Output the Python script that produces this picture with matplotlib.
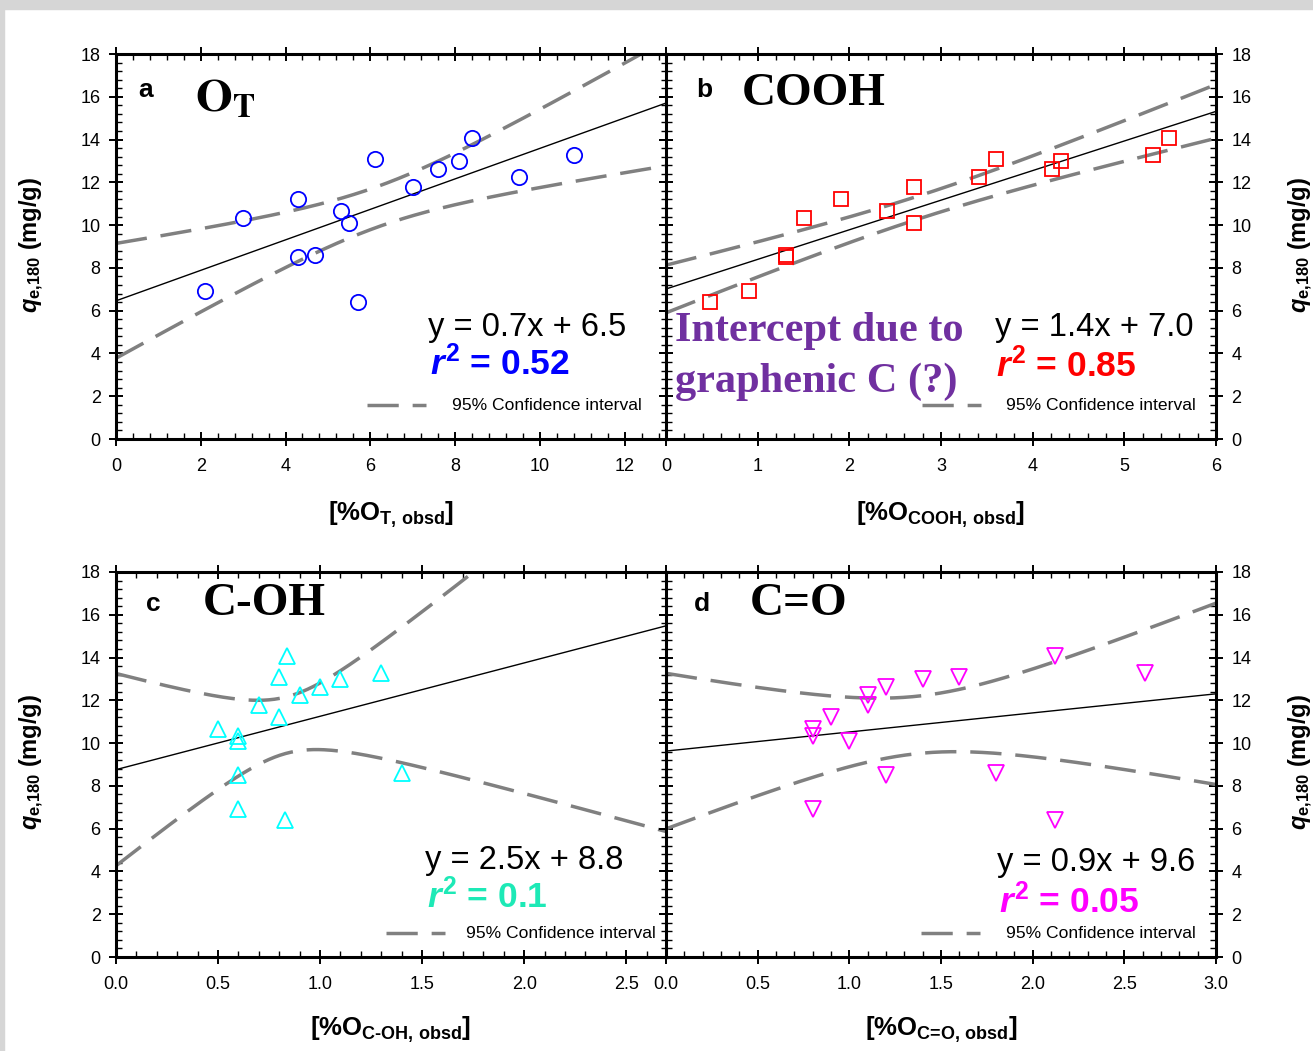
import matplotlib.pyplot as plt
import numpy as np
from matplotlib.ticker import MultipleLocator
from matplotlib.patches import Rectangle

plt.rcParams['font.family'] = ['Liberation Sans', 'DejaVu Sans']
plt.rcParams['mathtext.fontset'] = 'custom'
plt.rcParams['mathtext.rm'] = 'Liberation Sans:bold'
plt.rcParams['mathtext.bf'] = 'Liberation Sans:bold'
plt.rcParams['mathtext.it'] = 'Liberation Sans:bold:italic'

# q_e,180 (mg/g) vs oxygen content of each group
x_ot = [2.1, 3.0, 4.3, 4.3, 4.7, 5.3, 5.5, 5.7, 6.1, 7.0, 7.6, 8.1, 8.4, 9.5, 10.8]
q_ot = [6.93, 10.32, 11.20, 8.49, 8.60, 10.67, 10.08, 6.39, 13.09, 11.78, 12.61, 12.98, 14.09, 12.23, 13.29]

x_cooh = [0.48, 0.91, 1.31, 1.31, 1.50, 1.91, 2.41, 2.71, 2.71, 3.41, 3.60, 4.21, 4.31, 5.31, 5.49]
q_cooh = [6.39, 6.93, 8.60, 8.49, 10.32, 11.20, 10.67, 11.78, 10.08, 12.23, 13.09, 12.61, 12.98, 13.29, 14.09]

x_coh = [0.84, 0.80, 1.30, 1.10, 1.00, 0.90, 0.70, 0.80, 0.50, 0.60, 0.60, 0.60, 1.40, 0.60, 0.83]
q_coh = [14.09, 13.09, 13.29, 12.98, 12.61, 12.23, 11.78, 11.20, 10.67, 10.32, 10.08, 8.49, 8.60, 6.93, 6.39]

x_co = [2.12, 2.61, 1.60, 1.40, 1.20, 1.10, 1.10, 0.90, 0.80, 0.80, 1.00, 1.20, 1.80, 0.80, 2.12]
q_co = [14.09, 13.29, 13.09, 12.98, 12.61, 12.23, 11.78, 11.20, 10.67, 10.32, 10.08, 8.49, 8.60, 6.93, 6.39]

eqs = ['y = 0.7x + 6.5', 'y = 1.4x + 7.0', 'y = 2.5x + 8.8', 'y = 0.9x + 9.6']
r2s = ['0.52', '0.85', '0.1', '0.05']

W, H = 1313, 1051
fig = plt.figure(figsize=(W / 100, H / 100), dpi=100)
fig.patches.append(Rectangle((0, 1 - 9 / H), 1, 9 / H, transform=fig.transFigure, color='#d6d6d6', zorder=0))
fig.patches.append(Rectangle((0, 0), 4 / W, 1, transform=fig.transFigure, color='#d6d6d6', zorder=0))


def px(x, y):
    return x / W, 1 - y / H


def fit_ci(x, y, xs, t=2.160):
    x = np.asarray(x)
    y = np.asarray(y)
    b, a = np.polyfit(x, y, 1)
    n = len(x)
    s = np.sqrt(((y - (a + b * x)) ** 2).sum() / (n - 2))
    sxx = ((x - x.mean()) ** 2).sum()
    yh = a + b * xs
    w = t * s * np.sqrt(1 / n + (xs - x.mean()) ** 2 / sxx)
    return yh, yh - w, yh + w


def make_ax(rect, xmax, xmaj, xmin, left, right):
    ax = fig.add_axes(rect)
    ax.set_xlim(0, xmax)
    ax.set_ylim(0, 18)
    ax.xaxis.set_major_locator(MultipleLocator(xmaj))
    ax.xaxis.set_minor_locator(MultipleLocator(xmin))
    ax.yaxis.set_major_locator(MultipleLocator(2))
    ax.yaxis.set_minor_locator(MultipleLocator(0.4))
    ax.tick_params(which='both', top=True, right=True, labelsize=13,
                   labelleft=left, labelright=right)
    ax.tick_params(axis='x', pad=9)
    ax.tick_params(axis='y', pad=6)
    ax.tick_params(which='major', direction='inout', length=10, width=1.4)
    ax.tick_params(which='minor', direction='in', length=4, width=1)
    for sp in ax.spines.values():
        sp.set_linewidth(2.2)
    return ax


w_a, w_b = 551 / W, 550 / W
hgt = 385 / H
ax_a = make_ax([116 / W, 1 - 439 / H, w_a, hgt], 13, 2, 0.4, True, False)
ax_b = make_ax([666 / W, 1 - 439 / H, w_b, hgt], 6, 1, 0.2, False, True)
ax_c = make_ax([116 / W, 1 - 957 / H, w_a, hgt], 2.7, 0.5, 0.1, True, False)
ax_d = make_ax([666 / W, 1 - 957 / H, w_b, hgt], 3.0, 0.5, 0.1, False, True)

panels = [
    (ax_a, x_ot, q_ot, 'o', '#0000ff', 11, '#0000ff'),
    (ax_b, x_cooh, q_cooh, 's', '#ff0000', 10, '#ff0000'),
    (ax_c, x_coh, q_coh, '^', '#00ffff', 11, '#1de9b6'),
    (ax_d, x_co, q_co, 'v', '#ff00ff', 11, '#ff00ff'),
]

for ax, xv, qv, mk, col, ms, rcol in panels:
    xs = np.linspace(0, ax.get_xlim()[1], 300)
    yh, lo, hi = fit_ci(xv, qv, xs)
    ax.plot(xs, yh, color='black', lw=1)
    for band in (lo, hi):
        ax.plot(xs, band, color='#808080', lw=2.5, dashes=(9, 4))
    ax.plot(xv, qv, linestyle='none', marker=mk, ms=ms, mfc='none', mec=col, mew=1.3)

# panel letters and group names
for xl, yl, letter in [(138, 90, 'a'), (696, 90, 'b'), (146, 604, 'c'), (694, 604, 'd')]:
    fig.text(*px(xl, yl), letter, fontsize=19, fontweight='bold', va='center')

fig.text(*px(195, 100), r'$\mathbf{O}_{\mathbf{T}}$', fontsize=34, va='center', math_fontfamily='stix')
fig.text(*px(742, 94), 'COOH', fontsize=34, fontweight='bold', va='center', family='Liberation Serif')
fig.text(*px(203, 604), 'C-OH', fontsize=34, fontweight='bold', va='center', family='Liberation Serif')
fig.text(*px(750, 604), 'C=O', fontsize=34, fontweight='bold', va='center', family='Liberation Serif')

# equations, r^2 and legend
eq_pos = [(428, 328, 430, 364, 367, 452, 405), (995, 328, 996, 366, 922, 1006, 405),
          (425, 861, 427, 897, 386, 466, 933), (997, 862, 999, 902, 921, 1006, 933)]
for (ex, ey, rx, ry, lx, tx, ly), eq, r2, p in zip(eq_pos, eqs, r2s, panels):
    fig.text(*px(ex, ey), eq, fontsize=23.5, va='center')
    fig.text(*px(rx, ry), r'$r^2$ = ' + r2, fontsize=25.5, fontweight='bold', va='center', color=p[6])
    fig.lines.append(plt.Line2D([lx / W, (lx + 59) / W], [1 - ly / H] * 2, transform=fig.transFigure,
                                color='#808080', lw=2.5, dashes=(9, 4)))
    fig.text(*px(tx, ly), '95% Confidence interval', fontsize=12.6, va='center')

fig.text(*px(675, 331), 'Intercept due to', fontsize=30.5, fontweight='bold', va='center',
         family='Liberation Serif', color='#7030a0')
fig.text(*px(675, 382), 'graphenic C (?)', fontsize=30.5, fontweight='bold', va='center',
         family='Liberation Serif', color='#7030a0')

# axis labels
ylab = r'$q_{\mathbf{e{,}180}}$ (mg/g)'
for yy in (245, 762):
    fig.text(*px(32, yy), ylab, fontsize=17, fontweight='bold', rotation=90, ha='center', va='center')
    fig.text(*px(1301, yy), ylab, fontsize=17, fontweight='bold', rotation=90, ha='center', va='center')

xlabs = [(391, 515, r'[%O$_{\mathbf{T{,}\ obsd}}$]'), (941, 515, r'[%O$_{\mathbf{COOH{,}\ obsd}}$]'),
         (391, 1030, r'[%O$_{\mathbf{C\text{-}OH{,}\ obsd}}$]'),
         (941, 1030, r'[%O$_{\mathbf{C\text{=}O{,}\ obsd}}$]')]
for xx, yy, lab in xlabs:
    fig.text(*px(xx, yy), lab, fontsize=18.5, fontweight='bold', ha='center', va='center')

fig.savefig('out.png', dpi=100)
